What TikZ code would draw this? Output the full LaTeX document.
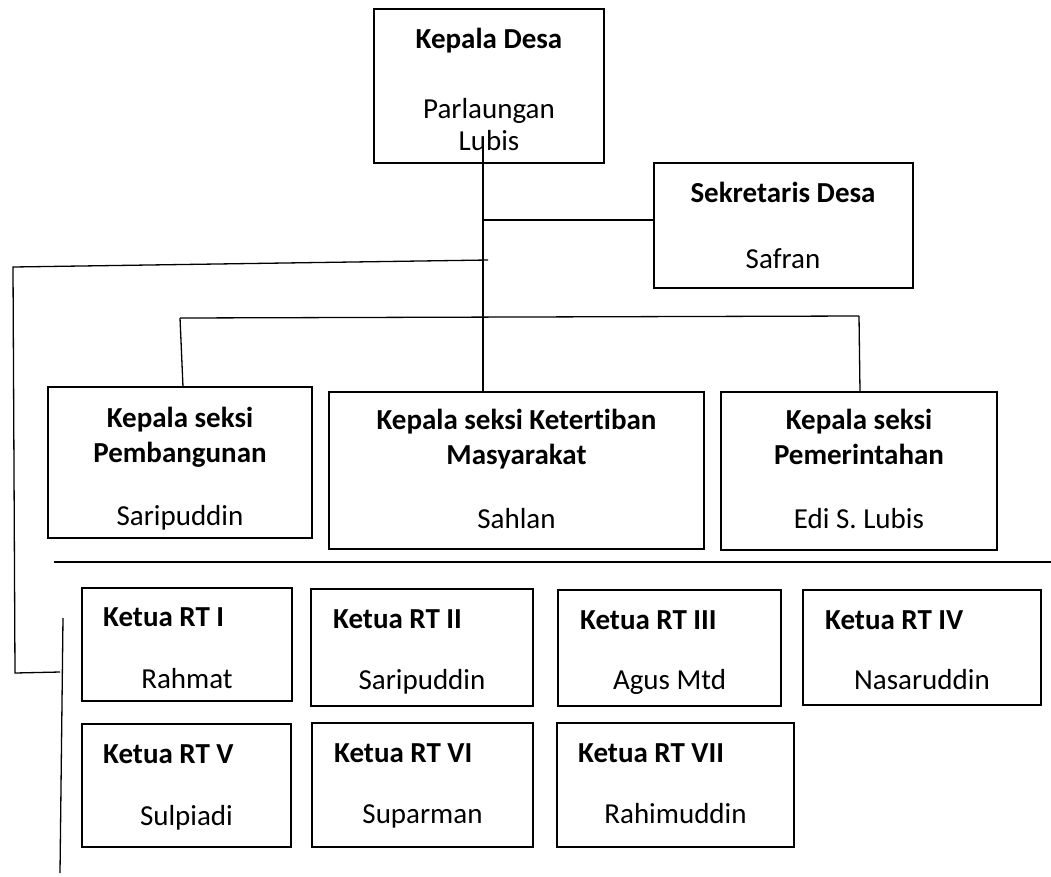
\documentclass[tikz,border=0pt]{standalone}
\usepackage{fontspec}
\setmainfont{Carlito}[Ligatures=NoCommon]
\begin{document}
\begin{tikzpicture}[x=1pt,y=-1pt,
  box/.style={draw, line width=1.4pt, inner sep=0pt, outer sep=0pt, fill=none},
  ln/.style={line width=1.3pt},
  tb/.style={inner sep=0pt, anchor=base, font=\fontsize{29}{35}\selectfont\bfseries},
  tn/.style={inner sep=0pt, anchor=base, font=\fontsize{29}{35}\selectfont},
  tbl/.style={tb, anchor=base west}]
\useasboundingbox (0,0) rectangle (1051,876);

% top boxes
\node[box, minimum width=230pt, minimum height=154pt] (kd) at (489,86) {};
\node[tb] (kdt) at (489,48) {Kepala Desa};
\node[tn] (kdn1) at (489,118) {Parlaungan};
\node[tn] (kdn2) at (489,150) {Lubis};

\node[box, minimum width=259pt, minimum height=125pt] (sek) at (783.5,225.5) {};
\node[tb] (sekt) at (783,202) {Sekretaris Desa};
\node[tn] (sekn) at (783,268) {Safran};

% seksi boxes
\node[box, minimum width=264pt, minimum height=151pt] (ksp) at (180,462.5) {};
\node[tb] (kspt1) at (180,427) {Kepala seksi};
\node[tb] (kspt2) at (180,462) {Pembangunan};
\node[tn] (kspn) at (180,525) {Saripuddin};

\node[box, minimum width=375pt, minimum height=157pt] (ksm) at (516.5,470.5) {};
\node[tb] (ksmt1) at (516.5,429) {Kepala seksi Ketertiban};
\node[tb] (ksmt2) at (516.5,464) {Masyarakat};
\node[tn] (ksmn) at (516.5,528) {Sahlan};

\node[box, minimum width=276pt, minimum height=158pt] (kse) at (859,471) {};
\node[tb] (kset1) at (859,429) {Kepala seksi};
\node[tb] (kset2) at (859,464) {Pemerintahan};
\node[tn] (ksen) at (859,528) {Edi S. Lubis};

% RT boxes
\node[box, minimum width=210pt, minimum height=113pt] (rt1) at (187,644.5) {};
\node[tbl] (rt1t) at (103,626) {Ketua RT I};
\node[tn] (rt1n) at (187,688) {Rahmat};

\node[box, minimum width=222pt, minimum height=117pt] (rt2) at (422,647.5) {};
\node[tbl] (rt2t) at (333,628) {Ketua RT II};
\node[tn] (rt2n) at (422,689) {Saripuddin};

\node[box, minimum width=223pt, minimum height=116pt] (rt3) at (669.5,648) {};
\node[tbl] (rt3t) at (580,629) {Ketua RT III};
\node[tn] (rt3n) at (669.5,689) {Agus Mtd};

\node[box, minimum width=238pt, minimum height=115pt] (rt4) at (922,647.5) {};
\node[tbl] (rt4t) at (825,629) {Ketua RT IV};
\node[tn] (rt4n) at (922,689) {Nasaruddin};

\node[box, minimum width=209pt, minimum height=123pt] (rt5) at (186.5,785.5) {};
\node[tbl] (rt5t) at (103,763) {Ketua RT V};
\node[tn] (rt5n) at (186.5,825) {Sulpiadi};

\node[box, minimum width=221pt, minimum height=124pt] (rt6) at (422.5,785) {};
\node[tbl] (rt6t) at (334,762) {Ketua RT VI};
\node[tn] (rt6n) at (422.5,823) {Suparman};

\node[box, minimum width=237pt, minimum height=124pt] (rt7) at (675.5,785) {};
\node[tbl] (rt7t) at (578,762) {Ketua RT VII};
\node[tn] (rt7n) at (675.5,823) {Rahimuddin};

% connector coordinates
\coordinate (kdin) at (483,150);
\coordinate (jsek) at (483,220);
\coordinate (tickR) at (488,260);
\coordinate (lt) at (13,267);
\coordinate (lb) at (15,673);
\coordinate (lbr) at (60,672);
\coordinate (v2t) at (63,618);
\coordinate (v2b) at (60,873);
\coordinate (busL) at (180,318);
\coordinate (busR) at (859,316);
\coordinate (sepL) at (54,562);
\coordinate (sepR) at (1051,562);

% connectors
\draw[ln] (kdin) -- (ksm.north -| kdin);
\draw[ln] (jsek) -- (jsek -| sek.west);
\draw[ln] (tickR) -- (lt) -- (lb) -- (lbr);
\draw[ln] (v2t) -- (v2b);
\draw[ln] (busL) -- (busR);
\draw[ln] (busL) -- (ksp.north -| 183,0);
\draw[ln] (busR) -- (kse.north -| 860,0);
\draw[ln] (sepL) -- (sepR);
\end{tikzpicture}
\end{document}
